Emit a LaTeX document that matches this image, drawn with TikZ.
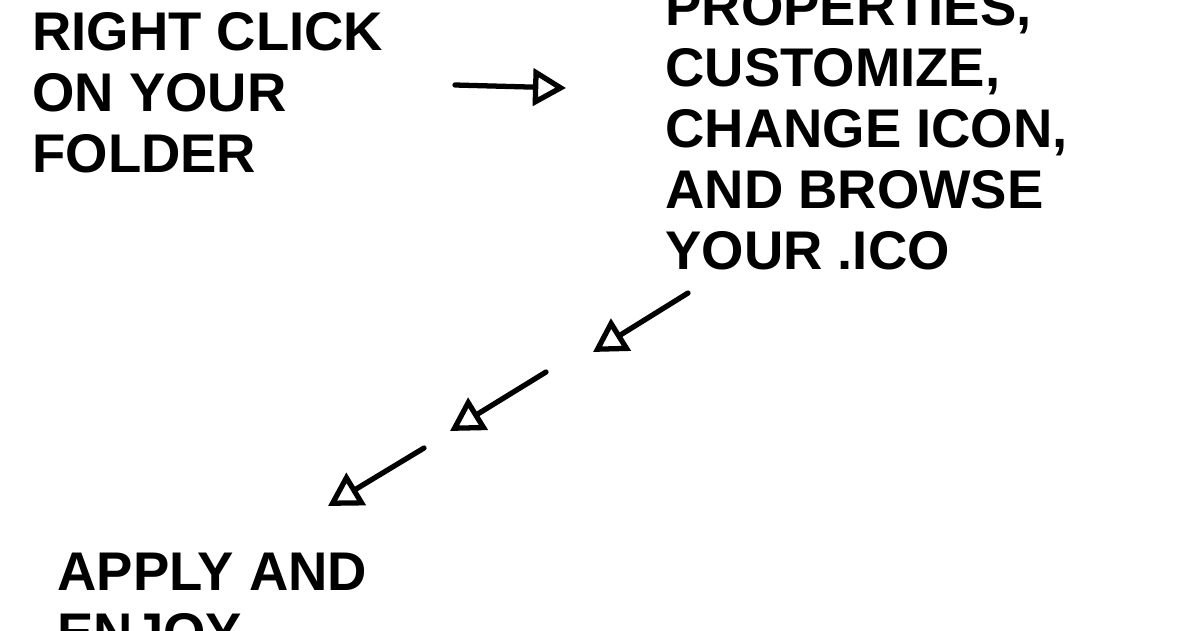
\documentclass[tikz,border=0pt]{standalone}
\usepackage{fontspec}
\setmainfont{Liberation Sans}
\usetikzlibrary{positioning,arrows.meta}

\begin{document}
\begin{tikzpicture}[
    x=0.02cm, y=-0.02cm,
    note/.style={anchor=base west,align=left,inner sep=0pt,font=\bfseries\fontsize{31}{34.7}\selectfont},
    flow/.style={line width=3pt,line cap=round,-{Triangle[open,length=0.66cm,width=0.74cm,line width=3pt]}}
    ]
        \useasboundingbox (0,0) rectangle (1200,630);
        \clip (0,0) rectangle (1200,630);
        % base anchor sits on the last line
        \node [note](click) at (32,172) {RIGHT CLICK\\ON YOUR\\FOLDER};
        \node [note](props) at (665,269) {PROPERTIES,\\CUSTOMIZE,\\CHANGE ICON,\\AND BROWSE\\YOUR .ICO};
        \node [note](apply) at (57,651) {APPLY AND\\ENJOY};
        \coordinate (a0) at (455,85);
        \coordinate (a1) at (566,88);
        \coordinate (b0) at (688,293);
        \coordinate (b1) at (593,352);
        \coordinate (c0) at (546,372);
        \coordinate (c1) at (450,431);
        \coordinate (d0) at (424,448);
        \coordinate (d1) at (328,506);
        \draw [flow] (a0) -- (a1);
        \draw [flow] (b0) -- (b1);
        \draw [flow] (c0) -- (c1);
        \draw [flow] (d0) -- (d1);
\end{tikzpicture}
\end{document}
